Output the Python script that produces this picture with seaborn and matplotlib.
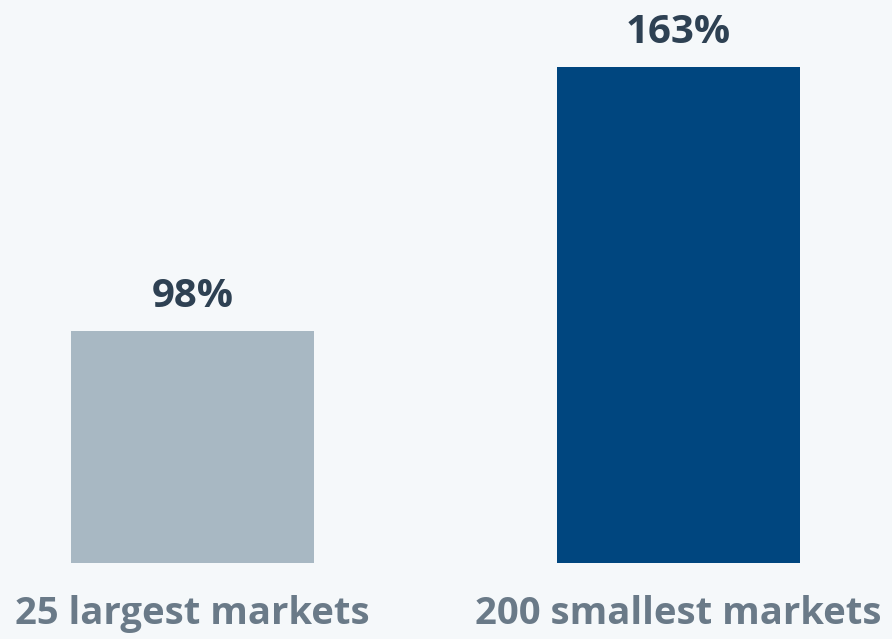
import pandas as pd
import matplotlib.pyplot as plt
import seaborn as sns

# datos del grafico
grupos = ['25 largest markets', '200 smallest markets']
valores = [98, 163]
etiquetas = ['98%', '163%']
colores = ['#a8b8c3', '#00467f']

fondo = '#f5f8fa'

df = pd.DataFrame({'grupo': grupos, 'valor': valores})

sns.set_style('white')
plt.rcParams['font.family'] = ['Open Sans', 'DejaVu Sans']

fig = plt.figure(figsize=(8.92, 6.39), dpi=100, facecolor=fondo)
ax = fig.add_axes([0, 76 / 639, 1, 563 / 639])
ax.set_facecolor(fondo)

sns.barplot(data=df, x='grupo', y='valor', hue='grupo', palette=colores,
            width=0.5, saturation=1, legend=False, linewidth=0, ax=ax)

for i, (v, t) in enumerate(zip(valores, etiquetas)):
    ax.annotate(t, (i, v), xytext=(0, 17), textcoords='offset points',
                ha='center', va='baseline', fontsize=29, fontweight='bold',
                color='#2e4153')

ax.set_xlim(-192.5 / 486, (892 - 192.5) / 486)
ax.set_ylim(40.9, 179.5)
ax.set_xlabel('')
ax.set_ylabel('')
ax.set_yticks([])
ax.tick_params(axis='x', length=0, pad=23)
for lab in ax.get_xticklabels():
    lab.set_fontsize(27.5)
    lab.set_fontweight('bold')
    lab.set_color('#6a7a88')
sns.despine(ax=ax, left=True, bottom=True, top=True, right=True)

fig.savefig('out.png', dpi=100, facecolor=fondo)
